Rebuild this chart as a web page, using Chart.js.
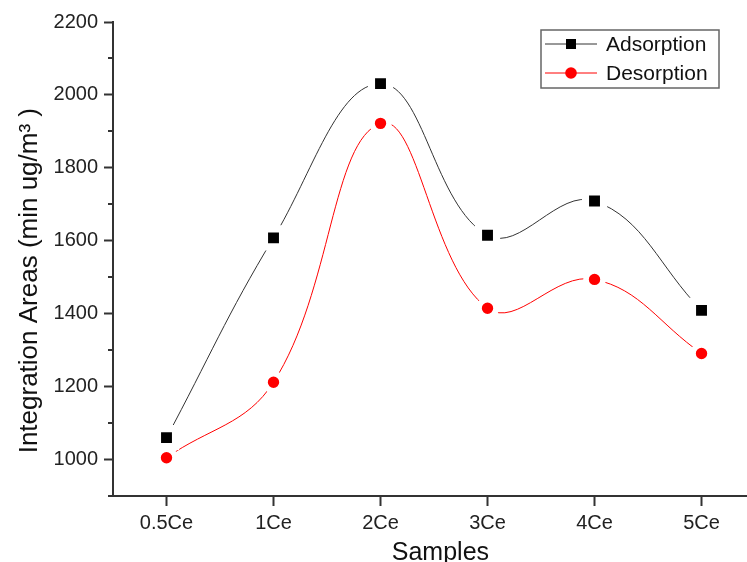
<!DOCTYPE html>
<html>
<head>
<meta charset="utf-8">
<script src="https://cdn.jsdelivr.net/npm/chart.js@4.4.0/dist/chart.umd.min.js"></script>
<style>
  html, body { margin: 0; padding: 0; background: #fff; }
  #wrap { width: 747px; height: 562px; }
</style>
</head>
<body>
<div id="wrap"><canvas id="chart" width="747" height="562"></canvas></div>
<script>
const samples = ["0.5Ce", "1Ce", "2Ce", "3Ce", "4Ce", "5Ce"];
const adsorption = [1060, 1608, 2031, 1615, 1709, 1409];
const desorption = [1005, 1212, 1922, 1415, 1494, 1291];
const yTicks = [1000, 1200, 1400, 1600, 1800, 2000, 2200];
const yMinorTicks = [900, 1100, 1300, 1500, 1700, 1900, 2100];

const FONT = 'Arial, "Liberation Sans", sans-serif';
const NB = "\u00a0";

// minor ticks on the left axis (Chart.js has no minor ticks)
const minorTicks = {
  id: "minorTicks",
  afterDraw(chart) {
    const ctx = chart.ctx;
    const y = chart.scales.y;
    ctx.save();
    ctx.strokeStyle = "#333";
    ctx.lineWidth = 2;
    yMinorTicks.forEach(v => {
      const py = Math.round(y.getPixelForValue(v));
      ctx.beginPath();
      ctx.moveTo(y.right - 5, py);
      ctx.lineTo(y.right, py);
      ctx.stroke();
    });
    ctx.restore();
  }
};

// boxed legend, Origin style: line through the marker
const legendBox = {
  id: "legendBox",
  afterDraw(chart) {
    const ctx = chart.ctx;
    ctx.save();
    ctx.strokeStyle = "#666";
    ctx.lineWidth = 1.5;
    ctx.strokeRect(541, 30, 178, 58);
    chart.data.datasets.forEach((ds, i) => {
      const cy = 44 + i * 29;
      ctx.strokeStyle = ds.borderColor;
      ctx.lineWidth = 1;
      ctx.beginPath();
      ctx.moveTo(545, cy);
      ctx.lineTo(597, cy);
      ctx.stroke();
      ctx.fillStyle = ds.pointBackgroundColor;
      if (ds.pointStyle === "rect") {
        ctx.fillRect(566, cy - 5, 10, 10);
      } else {
        ctx.beginPath();
        ctx.arc(571, cy, 5.8, 0, Math.PI * 2);
        ctx.fill();
      }
      ctx.fillStyle = "#111";
      ctx.font = "21px " + FONT;
      ctx.textBaseline = "middle";
      ctx.fillText(ds.label, 606, cy + 1);
    });
    ctx.restore();
  }
};

new Chart(document.getElementById("chart"), {
  type: "line",
  data: {
    datasets: [
      {
        label: "Adsorption",
        data: adsorption.map((v, i) => ({ x: i, y: v })),
        borderColor: "#333",
        borderWidth: 1,
        tension: 0.4,
        pointStyle: "rect",
        pointRadius: 12.8,
        pointBackgroundColor: "#000",
        pointBorderColor: "#fff",
        pointBorderWidth: 7.2,
        fill: false
      },
      {
        label: "Desorption",
        data: desorption.map((v, i) => ({ x: i, y: v })),
        borderColor: "#ff0000",
        borderWidth: 1,
        tension: 0.4,
        pointStyle: "circle",
        pointRadius: 8.5,
        pointBackgroundColor: "#ff0000",
        pointBorderColor: "#fff",
        pointBorderWidth: 5.6,
        fill: false
      }
    ]
  },
  options: {
    responsive: false,
    animation: false,
    devicePixelRatio: 1,
    layout: { autoPadding: false, padding: { top: 22, right: 0, left: 0, bottom: 0 } },
    plugins: {
      legend: { display: false },
      tooltip: { enabled: false }
    },
    scales: {
      x: {
        type: "linear",
        min: -0.5,
        max: 5.425,
        afterBuildTicks: s => { s.ticks = samples.map((_, i) => ({ value: i })); },
        afterFit: s => { s.height = 66; s.paddingLeft = 0; s.paddingRight = 0; },
        grid: { drawOnChartArea: false, tickLength: 10, tickColor: "#333", tickWidth: 2 },
        border: { color: "#333", width: 2 },
        ticks: {
          color: "#222",
          font: { family: FONT, size: 20 },
          padding: 5,
          maxRotation: 0,
          callback: v => samples[v]
        },
        title: {
          display: true,
          text: NB.repeat(3) + "Samples",
          color: "#111",
          font: { family: FONT, size: 25 },
          padding: { top: 0, bottom: -6 }
        }
      },
      y: {
        min: 900,
        max: 2200,
        afterBuildTicks: s => { s.ticks = yTicks.map(v => ({ value: v })); },
        afterFit: s => { s.width = 113; },
        grid: { drawOnChartArea: false, tickLength: 9, tickColor: "#333", tickWidth: 2 },
        border: { color: "#333", width: 2 },
        ticks: {
          color: "#222",
          font: { family: FONT, size: 20 },
          padding: 6,
          callback: v => String(v)
        },
        title: {
          display: true,
          text: "Integration Areas (min ug/m\u00b3 )" + NB.repeat(6),
          color: "#111",
          font: { family: FONT, size: 26 },
          padding: { top: 14, bottom: 0 }
        }
      }
    }
  },
  plugins: [minorTicks, legendBox]
});
</script>
</body>
</html>
